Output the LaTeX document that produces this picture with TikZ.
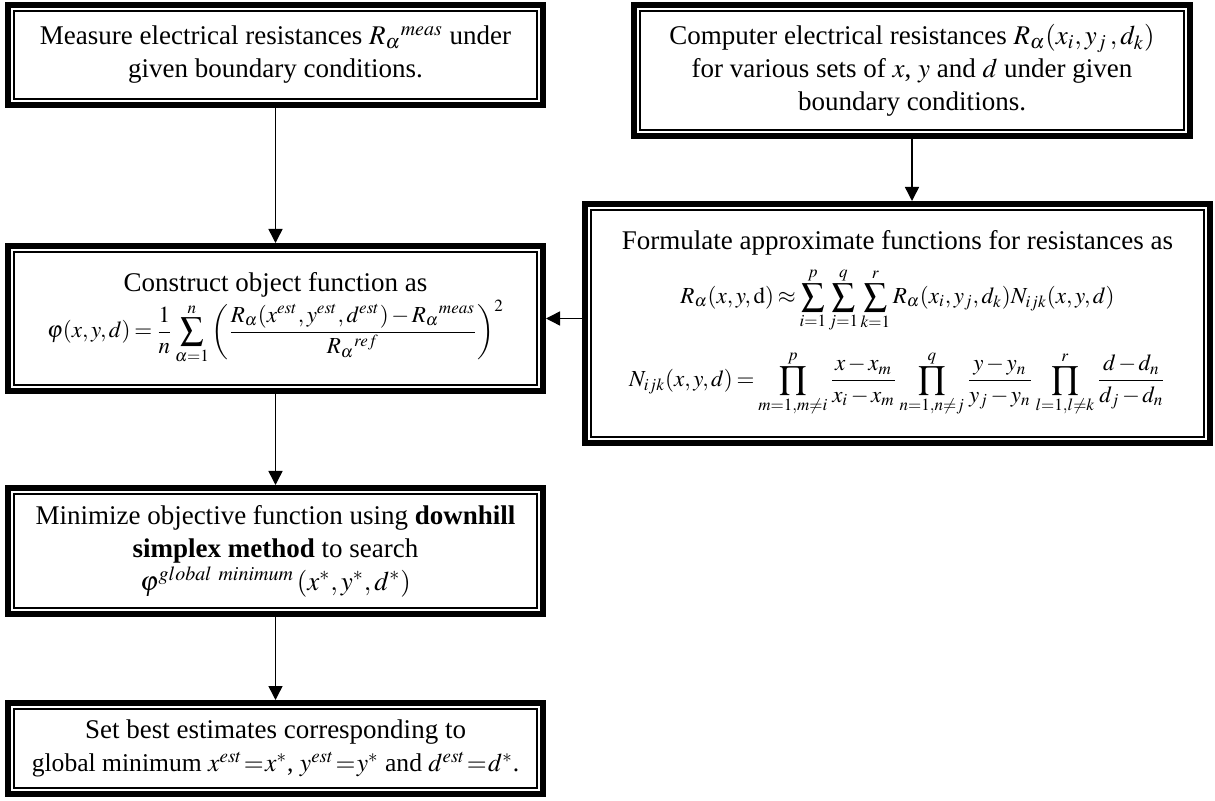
\documentclass[tikz,border=0pt]{standalone}
\usepackage{amsmath}
\usepackage{mathptmx}
\usepackage[no-math]{fontspec}
\setmainfont{Liberation Serif}
\usepackage{tikz}
\usetikzlibrary{arrows.meta}

\newcommand{\tightmath}{\thickmuskip=3mu\relax\medmuskip=2mu\relax}
\newcommand{\eqsize}{\fontsize{11.5}{14}\selectfont}
\tikzset{
  flowbox/.style={draw, line width=3pt, inner sep=0pt, align=center,
    font=\fontsize{13.5}{16.5}\selectfont\tightmath},
  flowarrow/.style={-{Triangle[length=7pt,width=7pt]}, line width=0.75pt}
}

\begin{document}
\begin{tikzpicture}[x=0.5pt,y=-0.5pt]
    \useasboundingbox (0,0) rectangle (1215,801);
    % left column
    \node[flowbox,minimum width=267.5pt,minimum height=50pt] (measure) at (275.5,55)
      {Measure electrical resistances $R_{\alpha}{}^{meas}$ under\\ given boundary conditions.};
    \node[flowbox,minimum width=267.5pt,minimum height=72.5pt] (objective) at (275.5,318.5)
      {Construct object function as\\
       {\eqsize$\displaystyle \varphi(x,y,d)=\frac{1}{n}\sum_{\alpha=1}^{n}\left(\frac{R_{\alpha}(x^{est},y^{est},d^{est})-R_{\alpha}{}^{meas}}{R_{\alpha}{}^{ref}}\right)^{2}$}};
    \node[flowbox,minimum width=267.5pt,minimum height=63pt] (minimize) at (275.5,551)
      {Minimize objective function using \textbf{downhill}\\
       \textbf{simplex method} to search\\
       $\varphi^{global\ minimum}\,(x^{*},y^{*},d^{*})$};
    \node[flowbox,minimum width=267.5pt,minimum height=45.5pt] (estimate) at (275.5,748.5)
      {Set best estimates corresponding to\\
       {\fontsize{12.8}{16.5}\selectfont global minimum $x^{est}\!=\!x^{*}$, $y^{est}\!=\!y^{*}$ and $d^{est}\!=\!d^{*}$.}};
    % right column
    \node[flowbox,minimum width=278pt,minimum height=65.5pt] (compute) at (912,70.5)
      {Computer electrical resistances $R_{\alpha}(x_i,y_j\,,d_k)$\\
       for various sets of $x$, $y$ and $d$ under given\\
       boundary conditions.};
    \node[flowbox,minimum width=312.5pt,minimum height=119.5pt] (approx) at (897.5,323.5)
      {Formulate approximate functions for resistances as\\[5pt]
       {\eqsize$\displaystyle R_{\alpha}(x,y,\mathrm{d})\approx\sum_{i=1}^{p}\sum_{j=1}^{q}\sum_{k=1}^{r}R_{\alpha}(x_i,y_j,d_k)N_{ijk}(x,y,d)$}\\[8pt]
       {\eqsize$\displaystyle N_{ijk}(x,y,d)=\prod_{m=1,m\neq i}^{p}\frac{x-x_m}{x_i-x_m}\prod_{n=1,n\neq j}^{q}\frac{y-y_n}{y_j-y_n}\prod_{l=1,l\neq k}^{r}\frac{d-d_n}{d_j-d_n}$}};
    % thin inner frames
    \foreach \n in {measure,objective,minimize,estimate,compute,approx}
      \draw[line width=1pt] ([shift={(4.7pt,-4.7pt)}]\n.north west) rectangle ([shift={(-4.7pt,4.7pt)}]\n.south east);
    % connectors
    \draw[flowarrow] (measure) -- (objective);
    \draw[flowarrow] (compute.south) -- (compute.south |- approx.north);
    \draw[flowarrow] (approx.west |- objective.east) -- (objective.east);
    \draw[flowarrow] (objective) -- (minimize);
    \draw[flowarrow] (minimize) -- (estimate);
\end{tikzpicture}
\end{document}
